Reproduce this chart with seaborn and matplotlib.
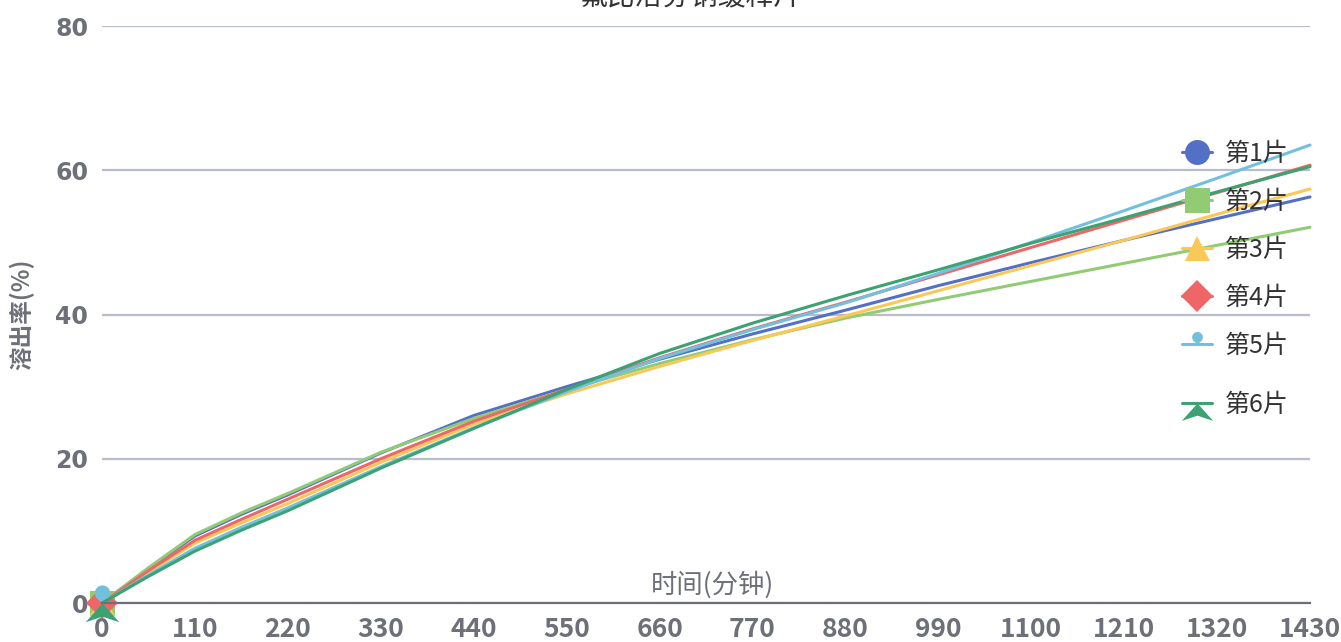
import numpy as np
import matplotlib
matplotlib.use('Agg')
import matplotlib.pyplot as plt
from matplotlib.path import Path
from matplotlib.lines import Line2D
import seaborn as sns

sns.set_style('white')
plt.rcParams['font.family'] = ['Noto Sans CJK SC', 'DejaVu Sans']
plt.rcParams['axes.unicode_minus'] = False

# 데이터
title = '氟比洛芬钠缓释片'
time_min = [0, 55, 110, 165, 220, 330, 440, 550, 660, 770, 880, 990, 1100, 1210, 1320, 1430]
series_names = ['第1片', '第2片', '第3片', '第4片', '第5片', '第6片']
tab1 = [0, 4.8, 9.3, 12.3, 15.0, 20.8, 26.0, 30.0, 33.8, 37.3, 40.6, 44.0, 47.2, 50.3, 53.3, 56.3]
tab2 = [0, 4.9, 9.5, 12.5, 15.2, 20.9, 25.6, 29.6, 33.2, 36.5, 39.5, 42.1, 44.6, 47.1, 49.6, 52.1]
tab3 = [0, 4.3, 8.3, 11.1, 13.8, 19.5, 24.8, 29.0, 32.8, 36.4, 39.8, 43.3, 46.8, 50.3, 53.9, 57.4]
tab4 = [0, 4.5, 8.7, 11.6, 14.4, 20.0, 25.2, 29.6, 34.0, 38.0, 41.7, 45.5, 49.3, 53.1, 56.9, 60.7]
tab5 = [0, 3.9, 7.6, 10.5, 13.2, 18.9, 24.3, 29.3, 33.9, 37.9, 41.6, 45.7, 50.0, 54.4, 58.9, 63.5]
tab6 = [0, 3.7, 7.2, 10.1, 12.8, 18.7, 24.2, 29.6, 34.6, 38.8, 42.6, 46.2, 49.9, 53.4, 57.0, 60.5]

colors = ['#5470c6', '#91cc75', '#fac858', '#ee6666', '#73c0de', '#3ba272']

# 핀 / 화살표 모양 마커
th = np.linspace(-0.22 * np.pi, 1.22 * np.pi, 30)
pin = Path([(0, 0)] + [(0.6 * np.cos(a), 0.8 + 0.6 * np.sin(a)) for a in th] + [(0, 0)])
arrow = Path([(0, 0), (0.9, -1.0), (0, -0.7), (-0.9, -1.0), (0, 0)])
markers = ['o', 's', '^', 'D', pin, arrow]
msizes = [18, 18, 18, 16, 26, 27]
leg_sizes = [18, 18, 18, 16, 18, 25]

GRAY = '#6e7079'

fig = plt.figure(figsize=(13.41, 6.42), dpi=100)
ax = fig.add_axes([0.0761, 0.0607, 0.9008, 0.8988])

all_vals = [tab1, tab2, tab3, tab4, tab5, tab6]
handles = []
for name, vals, c, m, ms, ls in zip(series_names, all_vals, colors, markers, msizes, leg_sizes):
    sns.lineplot(x=time_min, y=vals, ax=ax, color=c, linewidth=2.2,
                 marker=m, markevery=[0], markersize=ms, markeredgewidth=0,
                 markerfacecolor=c, clip_on=False)
    handles.append(Line2D([], [], color=c, linewidth=2.2, marker=m,
                          markersize=ls, markeredgewidth=0, label=name))

ax.set_xlim(0, 1430)
ax.set_ylim(0, 80)
ax.set_xticks(np.arange(0, 1431, 110))
ax.set_yticks([0, 20, 40, 60, 80])

ax.grid(axis='y', color='#b9bccb', linewidth=1.6)
ax.grid(axis='x', visible=False)
for s in ['top', 'right', 'left']:
    ax.spines[s].set_visible(False)
ax.spines['bottom'].set_color(GRAY)
ax.spines['bottom'].set_linewidth(1.6)

ax.tick_params(axis='x', colors=GRAY, length=7, width=1.3, pad=2)
ax.tick_params(axis='y', colors=GRAY, length=0, pad=10)
for lbl in ax.get_xticklabels():
    lbl.set_fontweight('bold')
    lbl.set_fontsize(19)
for lbl in ax.get_yticklabels():
    lbl.set_fontweight('bold')
    lbl.set_fontsize(17)
    lbl.set_family(['DejaVu Sans'])

ax.set_xlabel('')
ax.set_ylabel('')
ax.text(0.505, 0.008, '时间(分钟)', transform=ax.transAxes, ha='center', va='bottom',
        color=GRAY, fontsize=19, fontweight='medium')
fig.text(0.016, 0.51, '溶出率(%)', rotation=90, ha='center', va='center',
         color=GRAY, fontsize=17, fontweight='bold')
fig.text(0.515, 1.004, title, ha='center', va='center', color='#333333', fontsize=20)

# 범례: 1~5번은 한 묶음, 6번은 조금 아래에
leg_kw = dict(frameon=False, fontsize=18, handlelength=1.2, handletextpad=0.5,
              labelspacing=0.88, borderpad=0, borderaxespad=0, loc='upper left',
              bbox_transform=fig.transFigure)
leg1 = ax.legend(handles=handles[:5], bbox_to_anchor=(1182 / 1341, 1 - 141 / 642), **leg_kw)
for t in leg1.get_texts():
    t.set_color('#333333')
ax.add_artist(leg1)
leg2 = ax.legend(handles=handles[5:], bbox_to_anchor=(1182 / 1341, 1 - 392 / 642), **leg_kw)
for t in leg2.get_texts():
    t.set_color('#333333')

fig.savefig('out.png', dpi=100)
